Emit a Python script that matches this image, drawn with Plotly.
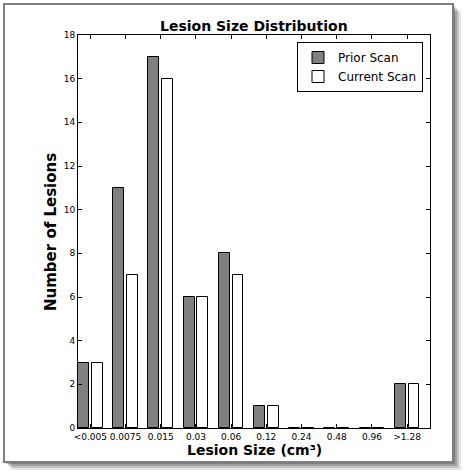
import plotly.graph_objects as go

categories = ["<0.005", "0.0075", "0.015", "0.03", "0.06", "0.12", "0.24", "0.48", "0.96", ">1.28"]
prior_scan = [3, 11, 17, 6, 8, 1, 0, 0, 0, 2]
current_scan = [3, 7, 16, 6, 7, 1, 0, 0, 0, 2]
y_ticks = [0, 2, 4, 6, 8, 10, 12, 14, 16, 18]

W, H = 467, 476
L, R, T, B = 78, 430, 35, 428  # plot area in pixels
pw, ph = R - L, B - T

def px(x):
    return (x - L) / pw

def py(y):
    return (B - y) / ph

pos = list(range(len(categories)))

fig = go.Figure()
fig.add_trace(go.Bar(
    x=pos, y=prior_scan, name="Prior Scan",
    width=0.31, offset=0.0,
    marker=dict(color="#808080", line=dict(color="black", width=1)),
))
fig.add_trace(go.Bar(
    x=pos, y=current_scan, name="Current Scan",
    width=0.31, offset=0.39,
    marker=dict(color="white", line=dict(color="black", width=1)),
))

shapes = []
# drop shadow
for i, op in enumerate([0.10, 0.14, 0.18, 0.22]):
    d = 8 - 2 * i
    shapes.append(dict(type="rect", xref="paper", yref="paper", layer="below",
                       x0=px(4 + d), x1=px(453 + d), y0=py(462 + d), y1=py(4 + d),
                       fillcolor="rgba(0,0,0,%.2f)" % op, line=dict(width=0)))
# frame
shapes.append(dict(type="rect", xref="paper", yref="paper", layer="below",
                   x0=px(4), x1=px(453), y0=py(462), y1=py(4),
                   fillcolor="white", line=dict(color="#7f7f7f", width=2)))

fig.update_layout(
    width=W, height=H,
    margin=dict(l=L, r=W - R, t=T, b=H - B),
    paper_bgcolor="white", plot_bgcolor="rgba(0,0,0,0)",
    barmode="overlay", bargap=0,
    font=dict(family="DejaVu Sans", color="black", size=9),
    showlegend=True,
    legend=dict(x=px(423), y=py(42), xanchor="right", yanchor="top",
                bordercolor="black", borderwidth=1, bgcolor="white",
                tracegroupgap=0,
                font=dict(size=12, family="DejaVu Sans")),
    shapes=shapes,
    annotations=[
        dict(text="<b>Lesion Size Distribution</b>", xref="paper", yref="paper",
             x=0.5, y=py(26), xanchor="center", yanchor="middle", showarrow=False,
             font=dict(size=14, family="DejaVu Sans")),
        dict(text="<b>Lesion Size (cm³)</b>", xref="paper", yref="paper",
             x=0.5, y=py(450), xanchor="center", yanchor="middle", showarrow=False,
             font=dict(size=14, family="DejaVu Sans")),
        dict(text="<b>Number of Lesions</b>", xref="paper", yref="paper",
             x=px(51), y=py(232), xanchor="center", yanchor="middle", showarrow=False,
             textangle=-90, font=dict(size=15, family="DejaVu Sans")),
    ],
)
fig.update_xaxes(range=[0, 10], tickmode="array",
                 tickvals=[p + 0.35 for p in pos], ticktext=categories,
                 ticks="inside", ticklen=4, tickcolor="black",
                 showline=True, linecolor="black", linewidth=1, mirror="ticks",
                 showgrid=False, zeroline=False, fixedrange=True)
fig.update_yaxes(range=[0, 18], tickmode="array", tickvals=y_ticks,
                 ticks="inside", ticklen=4, tickcolor="black",
                 showline=True, linecolor="black", linewidth=1, mirror="ticks",
                 showgrid=False, zeroline=False, fixedrange=True)

fig.write_html("out.html", config={"displayModeBar": False},
               post_script="document.body.style.margin='0';document.body.style.overflow='hidden';")
